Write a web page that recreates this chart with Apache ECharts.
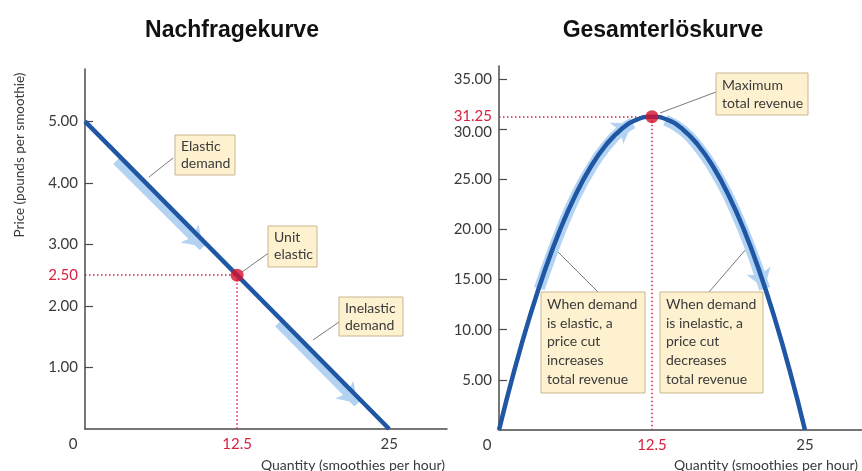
<!DOCTYPE html>
<html><head><meta charset="utf-8">
<script src="https://cdn.jsdelivr.net/npm/echarts@6/dist/echarts.min.js"></script>
<style>html,body{margin:0;padding:0;background:#fff}#c{width:862px;height:471px}</style>
</head><body><div id="c"></div>
<script>
// ---- data ----
const titles = ['Nachfragekurve', 'Gesamterlöskurve'];
const priceAxisName = 'Price (pounds per smoothie)';
const quantityAxisName = 'Quantity (smoothies per hour)';
const demandQ = [0, 25];
const demandP = [5, 0];
const revenueQ = [0, 1.25, 2.5, 3.75, 5, 6.25, 7.5, 8.75, 10, 11.25, 12.5, 13.75, 15, 16.25, 17.5, 18.75, 20, 21.25, 22.5, 23.75, 25];
const revenueTR = [0, 5.94, 11.25, 15.94, 20, 23.44, 26.25, 28.44, 30, 30.94, 31.25, 30.94, 30, 28.44, 26.25, 23.44, 20, 15.94, 11.25, 5.94, 0];
const unitPoint = [12.5, 2.5];
const maxRevenuePoint = [12.5, 31.25];
const elasticDemandBand = [[2.6, 4.36], [9.7, 2.96]];
const inelasticDemandBand = [[15.9, 1.72], [22.4, 0.42]];
const elasticRevenueBand = [[3.3, 14.1], [3.75, 15.7], [5, 19.8], [6.25, 23.3], [7.5, 26.1], [8.75, 28.3], [10, 29.9], [10.9, 30.6]];
const inelasticRevenueBand = [[13.6, 30.9], [15, 29.9], [16.25, 28.3], [17.5, 26.1], [18.75, 23.3], [20, 19.8], [21, 16.6], [21.7, 14.1]];
const priceTicks = [1, 2, 2.5, 3, 4, 5];
const priceTickMarks = [1, 2, 3, 4, 5];
const revenueTicks = [5, 10, 15, 20, 25, 30, 31.25, 35];
const revenueTickMarks = [5, 10, 15, 20, 25, 30, 35];
const quantityTicks = [0, 12.5, 25];
const notes = [
  'Elastic\ndemand',
  'Unit\nelastic',
  'Inelastic\ndemand',
  'Maximum\ntotal revenue',
  'When demand\nis elastic, a\nprice cut\nincreases\ntotal revenue',
  'When demand\nis inelastic, a\nprice cut\ndecreases\ntotal revenue'
];

// ---- styles ----
const FONT = 'Lato';
const AXIS = '#4a4a4a';
const TEXT = '#3a3a3a';
const RED = '#d8213f';
const DOT = '#d5102b';
const BLUE = '#1f57a4';
const BAND = '#b3d3f2';
const BOX_FILL = '#fdf1cf';
const BOX_STROKE = '#c9b68f';

const chart = echarts.init(document.getElementById('c'));

const demandLine = demandQ.map((q, i) => [q, demandP[i]]);
const revenueLine = revenueQ.map((q, i) => [q, revenueTR[i]]);

function xAxisFor(gi, max) {
  return {
    type: 'value', gridIndex: gi, min: 0, max: max,
    axisLine: { show: true, lineStyle: { color: AXIS, width: 1.5 } },
    axisTick: { show: false },
    splitLine: { show: false },
    axisLabel: {
      show: true, customValues: quantityTicks, margin: 8,
      fontFamily: FONT, fontSize: 15, color: TEXT,
      formatter: v => v === 0 ? '{z|0}' : (v === 12.5 ? '{r|12.5}' : '{n|' + v + '}'),
      rich: {
        z: { fontFamily: FONT, fontSize: 15, color: TEXT, padding: [0, 24, 0, 0] },
        r: { fontFamily: FONT, fontSize: 15, color: RED },
        n: { fontFamily: FONT, fontSize: 15, color: TEXT }
      }
    }
  };
}
function yAxisFor(gi, max, labels, marks, redVal, nudgeVal) {
  return {
    type: 'value', gridIndex: gi, min: 0, max: max,
    axisLine: { show: true, lineStyle: { color: AXIS, width: 1.5 } },
    axisTick: { show: true, inside: true, length: 8, customValues: marks, lineStyle: { color: AXIS, width: 1.2 } },
    splitLine: { show: false },
    axisLabel: {
      show: true, customValues: labels, margin: 7,
      fontFamily: FONT, fontSize: 15, color: TEXT,
      formatter: v => v === redVal ? '{r|' + v.toFixed(2) + '}' : (v === nudgeVal ? '{d|' + v.toFixed(2) + '}' : '{n|' + v.toFixed(2) + '}'),
      rich: {
        r: { fontFamily: FONT, fontSize: 15, color: RED },
        d: { fontFamily: FONT, fontSize: 15, color: TEXT, padding: [5, 0, 0, 0] },
        n: { fontFamily: FONT, fontSize: 15, color: TEXT }
      }
    }
  };
}

function bandSeries(gi, pts, width) {
  const n = pts.length;
  return {
    type: 'line', xAxisIndex: gi, yAxisIndex: gi, data: pts,
    smooth: n > 2, symbol: 'none', silent: true, z: 1,
    lineStyle: { color: BAND, width: width, cap: 'butt' },
    markLine: {
      silent: true, symbol: ['none', 'arrow'], symbolSize: 19, z: 1,
      label: { show: false }, animation: false,
      lineStyle: { color: BAND, width: width, type: 'solid' },
      emphasis: { disabled: true },
      data: [[{ coord: pts[n - 2] }, { coord: pts[n - 1] }]]
    }
  };
}
function pointSeries(gi, pt) {
  return {
    type: 'scatter', xAxisIndex: gi, yAxisIndex: gi, data: [pt],
    symbolSize: 13, itemStyle: { color: DOT }, z: 12, silent: true,
    markLine: {
      silent: true, symbol: 'none', label: { show: false }, animation: false, z: 4,
      lineStyle: { color: RED, width: 1.5, type: [1.5, 2.5] },
      emphasis: { disabled: true },
      data: [
        [{ coord: [0, pt[1]] }, { coord: pt }],
        [{ coord: pt }, { coord: [pt[0], 0] }]
      ]
    }
  };
}

function note(x, y, w, h, text, lh) {
  return {
    type: 'group', x: x, y: y, silent: true,
    children: [
      { type: 'rect', shape: { x: 0, y: 0, width: w, height: h }, style: { fill: BOX_FILL, stroke: BOX_STROKE, lineWidth: 1 } },
      { type: 'text', style: { text: text, x: 6, y: 3, fill: TEXT, font: '14px ' + FONT, lineHeight: lh, align: 'left', verticalAlign: 'top' } }
    ]
  };
}
function leader(x1, y1, x2, y2) {
  return { type: 'line', silent: true, shape: { x1, y1, x2, y2 }, style: { stroke: '#7a7a7a', lineWidth: 1 } };
}

const option = {
  animation: false,
  backgroundColor: '#fff',
  title: [
    { text: titles[0], left: 232, top: 19, textAlign: 'center', padding: 0, textStyle: { fontFamily: 'Liberation Sans', fontWeight: 'bold', fontSize: 23, color: '#111' } },
    { text: titles[1], left: 663, top: 19, textAlign: 'center', padding: 0, textStyle: { fontFamily: 'Liberation Sans', fontWeight: 'bold', fontSize: 23, color: '#111' } }
  ],
  grid: [
    { left: 85, top: 69, width: 362, height: 360, containLabel: false, outerBoundsMode: 'none' },
    { left: 499, top: 66, width: 363, height: 364, containLabel: false, outerBoundsMode: 'none' }
  ],
  xAxis: [xAxisFor(0, 29.75), xAxisFor(1, 29.66)],
  yAxis: [
    yAxisFor(0, 5.85, priceTicks, priceTickMarks, 2.5, null),
    yAxisFor(1, 36.3, revenueTicks, revenueTickMarks, 31.25, 30)
  ],
  series: [
    bandSeries(0, elasticDemandBand, 9),
    bandSeries(0, inelasticDemandBand, 9),
    { type: 'line', xAxisIndex: 0, yAxisIndex: 0, data: demandLine, symbol: 'none', silent: true, z: 10,
      lineStyle: { color: BLUE, width: 4.5 } },
    pointSeries(0, unitPoint),
    bandSeries(1, elasticRevenueBand, 11),
    bandSeries(1, inelasticRevenueBand, 11),
    { type: 'line', xAxisIndex: 1, yAxisIndex: 1, data: revenueLine, symbol: 'none', smooth: true, silent: true, z: 10,
      lineStyle: { color: BLUE, width: 4.5 } },
    pointSeries(1, maxRevenuePoint)
  ],
  graphic: [
    { type: 'text', x: 20, y: 155, rotation: Math.PI / 2, silent: true,
      style: { text: priceAxisName, fill: TEXT, font: '13.5px ' + FONT, align: 'center', verticalAlign: 'middle' } },
    { type: 'text', x: 445, y: 458, silent: true,
      style: { text: quantityAxisName, fill: TEXT, font: '14px ' + FONT, align: 'right', verticalAlign: 'top' } },
    { type: 'text', x: 858, y: 458, silent: true,
      style: { text: quantityAxisName, fill: TEXT, font: '14px ' + FONT, align: 'right', verticalAlign: 'top' } },
    leader(173, 158, 149, 177),
    leader(270, 252, 242, 272),
    leader(339, 322, 313, 340),
    leader(716, 92, 660, 113),
    leader(598, 292, 556, 250),
    leader(709, 292, 747, 248),
    note(175, 135, 60, 40, notes[0], 17),
    note(268, 226, 49, 41, notes[1], 17),
    note(339, 297, 64, 39, notes[2], 17),
    note(716, 73, 92, 42, notes[3], 18),
    note(541, 292, 104, 101, notes[4], 18.7),
    note(660, 292, 103, 101, notes[5], 18.7)
  ]
};
chart.setOption(option);
</script>
</body></html>
